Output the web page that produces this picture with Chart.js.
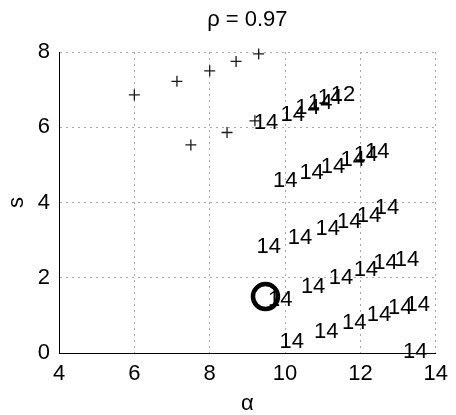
<!DOCTYPE html>
<html>
<head>
<meta charset="utf-8">
<script src="https://cdn.jsdelivr.net/npm/chart.js@4.4.1/dist/chart.umd.min.js"></script>
<style>
html,body{margin:0;padding:0;background:#fff;}
#wrap{width:456px;height:415px;}
</style>
</head>
<body>
<div id="wrap"><canvas id="c" width="456" height="415"></canvas></div>
<script>
// ---- data ----
const titleText = 'ρ = 0.97';
const xTitle = 'α';
const yTitle = 's';
const xTicks = [4, 6, 8, 10, 12, 14];
const yTicks = [0, 2, 4, 6, 8];

// '+' markers
const plusX = [6.0, 7.13, 8.0, 8.7, 9.3, 7.5, 8.46, 9.2];
const plusY = [6.86, 7.22, 7.5, 7.75, 7.95, 5.53, 5.86, 6.17];

// text labels (anchor = left edge, vertical middle)
const labelX = [
  9.17, 9.88, 10.27, 10.61, 10.87, 11.21,
  9.68, 10.38, 10.95, 11.47, 11.82, 12.12,
  9.24, 10.07, 10.81, 11.38, 11.90, 12.38,
  9.55, 10.42, 11.16, 11.82, 12.34, 12.91,
  9.85, 10.77, 11.51, 12.17, 12.73, 13.20,
  13.13
];
const labelY = [
  6.12, 6.34, 6.51, 6.64, 6.77, 6.86,
  4.56, 4.78, 4.95, 5.13, 5.27, 5.35,
  2.83, 3.05, 3.29, 3.49, 3.63, 3.85,
  1.41, 1.76, 1.99, 2.21, 2.39, 2.47,
  0.30, 0.57, 0.79, 1.01, 1.19, 1.28,
  0.03
];
const labelText = [
  '14', '14', '14', '14', '14', '12',
  '14', '14', '14', '14', '14', '14',
  '14', '14', '14', '14', '14', '14',
  '14', '14', '14', '14', '14', '14',
  '14', '14', '14', '14', '14', '14',
  '14'
];

// big open circle
const circleX = [9.48];
const circleY = [1.50];

// ---- chart ----
const FONT = "'Liberation Sans', Arial, Helvetica, sans-serif";
const toPts = (xs, ys) => xs.map((x, i) => ({x: x, y: ys[i]}));

const labelPlugin = {
  id: 'textLabels',
  afterDatasetDraw(chart, args) {
    if (args.index !== 2) return;
    const ctx = chart.ctx;
    const meta = args.meta;
    ctx.save();
    ctx.font = '22px ' + FONT;
    ctx.fillStyle = '#000';
    ctx.textAlign = 'left';
    ctx.textBaseline = 'middle';
    meta.data.forEach((el, i) => {
      ctx.fillText(labelText[i], el.x, el.y);
    });
    ctx.restore();
  }
};

new Chart(document.getElementById('c'), {
  type: 'scatter',
  data: {
    datasets: [
      {
        label: 'circle',
        data: toPts(circleX, circleY),
        pointStyle: 'circle',
        pointRadius: 12.5,
        pointBorderWidth: 4.5,
        pointBorderColor: '#000',
        pointBackgroundColor: 'rgba(0,0,0,0)',
        showLine: false,
        clip: false
      },
      {
        label: 'plus',
        data: toPts(plusX, plusY),
        pointStyle: 'cross',
        pointRadius: 5.5,
        pointBorderWidth: 1.3,
        pointBorderColor: '#1a1a1a',
        showLine: false,
        clip: false
      },
      {
        label: 'labels',
        data: toPts(labelX, labelY),
        pointRadius: 0,
        showLine: false
      }
    ]
  },
  options: {
    responsive: false,
    animation: false,
    devicePixelRatio: 1,
    events: [],
    layout: { padding: { left: 0, right: 19, top: 0, bottom: 0 } },
    plugins: {
      legend: { display: false },
      tooltip: { enabled: false },
      title: {
        display: true,
        text: titleText,
        fullSize: false,
        color: '#000',
        font: { family: FONT, size: 22, weight: 'normal', lineHeight: 1.2 },
        padding: { top: 7, bottom: 18.6 }
      }
    },
    scales: {
      x: {
        type: 'linear',
        min: 4, max: 14,
        afterBuildTicks: (s) => { s.ticks = xTicks.map(v => ({value: v})); },
        afterFit: (s) => { s.height = 62; },
        ticks: { color: '#000', font: { family: FONT, size: 22 }, padding: 8, maxRotation: 0 },
        grid: { color: '#a8a8a8', lineWidth: 1, drawTicks: false },
        border: { display: true, color: '#000', width: 1, dash: [2, 4] },
        title: {
          display: true, text: xTitle, color: '#000',
          font: { family: FONT, size: 22, lineHeight: 1.0 },
          padding: { top: 0, bottom: 0 }
        }
      },
      y: {
        type: 'linear',
        min: 0, max: 8,
        afterBuildTicks: (s) => { s.ticks = yTicks.map(v => ({value: v})); },
        afterFit: (s) => { s.width = 59; },
        ticks: { color: '#000', font: { family: FONT, size: 22 }, padding: 9 },
        grid: { color: '#a8a8a8', lineWidth: 1, drawTicks: false },
        border: { display: true, color: '#000', width: 1, dash: [2, 4] },
        title: {
          display: true, text: yTitle, color: '#000',
          font: { family: FONT, size: 22, lineHeight: 1.2 },
          padding: { top: 4, bottom: 0 }
        }
      }
    }
  },
  plugins: [labelPlugin]
});
</script>
</body>
</html>
